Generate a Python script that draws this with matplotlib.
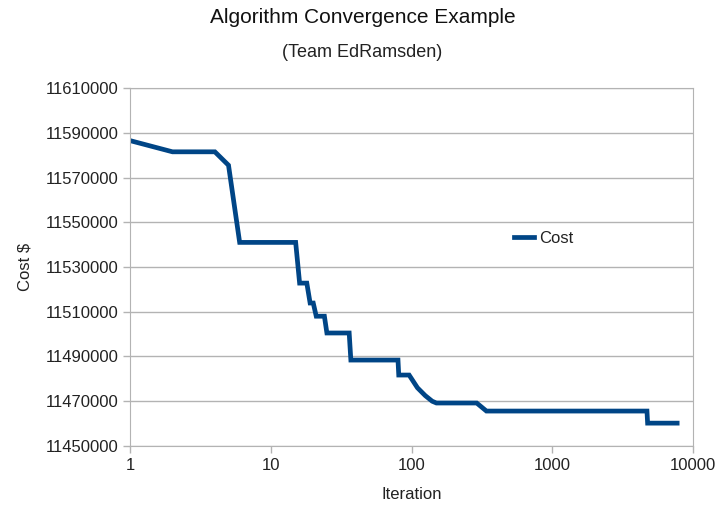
import matplotlib.pyplot as plt
from matplotlib.ticker import FuncFormatter, NullLocator

plt.rcParams['font.family'] = ['Liberation Sans', 'DejaVu Sans']

# iteration / cost values
iteration = [1, 2, 3, 4, 5, 6, 15, 16, 18, 19, 20, 21, 24, 25, 36, 37, 80, 81,
             96, 110, 125, 140, 150, 290, 340, 4700, 4750, 7700]
cost = [11586500, 11581500, 11581500, 11581500, 11575500, 11541000, 11541000,
        11522800, 11522800, 11513900, 11513900, 11508000, 11508000, 11500500,
        11500500, 11488400, 11488400, 11481700, 11481700, 11476000, 11472500,
        11470000, 11469200, 11469200, 11465600, 11465600, 11460200, 11460200]

yticks = list(range(11450000, 11610001, 20000))
xticks = [1, 10, 100, 1000, 10000]

fig = plt.figure(figsize=(7.19, 5.12), dpi=100)
ax = fig.add_axes([0.181, 0.129, 0.783, 0.699])

ax.plot(iteration, cost, color='#004586', linewidth=3.4, label='Cost',
        solid_joinstyle='miter')

ax.set_xscale('log')
ax.set_xlim(1, 10000)
ax.set_ylim(11450000, 11610000)
ax.set_xticks(xticks)
ax.xaxis.set_minor_locator(NullLocator())
ax.xaxis.set_major_formatter(FuncFormatter(lambda v, p: '%d' % v))
ax.set_yticks(yticks)
ax.yaxis.set_major_formatter(FuncFormatter(lambda v, p: '%d' % v))

ax.grid(axis='y', color='#b3b3b3', linewidth=1)
ax.set_axisbelow(True)
for s in ax.spines.values():
    s.set_color('#b3b3b3')
ax.tick_params(axis='both', colors='#b3b3b3', labelcolor='#222222',
               labelsize=12, length=5, width=1)

ax.set_xlabel('Iteration', fontsize=12, color='#222222', labelpad=10)
ax.set_ylabel('Cost $', fontsize=12, color='#222222', labelpad=9)

fig.text(0.504, 0.965, 'Algorithm Convergence Example', ha='center', va='center',
         fontsize=15, color='#111111')
fig.text(0.504, 0.898, '(Team EdRamsden)', ha='center', va='center',
         fontsize=13, color='#222222')

ax.legend(loc='center left', bbox_to_anchor=(0.655, 0.58), frameon=False,
          fontsize=12, handlelength=1.2, handletextpad=0.3,
          labelcolor='#222222')

fig.savefig('out.png', dpi=100)
